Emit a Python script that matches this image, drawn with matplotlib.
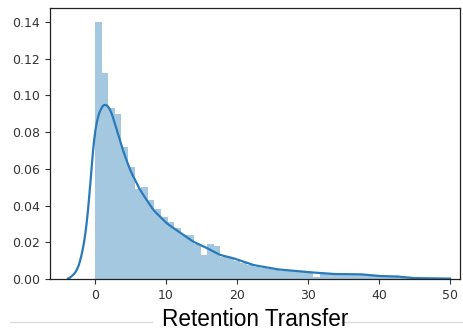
import numpy as np
import matplotlib
matplotlib.use("Agg")
import matplotlib.pyplot as plt
from matplotlib.lines import Line2D

# histogram: bins of equal width starting at 0, density heights
bin_width = 0.93
bin_start = 0.0
heights = [0.140, 0.112, 0.093, 0.090, 0.072, 0.061, 0.049, 0.050, 0.043, 0.038,
           0.034, 0.031, 0.028, 0.024, 0.024, 0.019, 0.013, 0.019, 0.018, 0.012,
           0.0115, 0.0100, 0.0088, 0.0078, 0.0068, 0.0060, 0.0055, 0.0050, 0.0046, 0.0043,
           0.0040, 0.0037, 0.0035, 0.0013, 0.0032, 0.0030, 0.0028, 0.0027, 0.0025, 0.0022,
           0.0020, 0.0018, 0.0016, 0.0014, 0.0012, 0.0010, 0.0008, 0.0006, 0.0004, 0.0003]

# density estimate curve
kde_x = [-3.8, -3.6, -2.6, -1.9, -1.17, -0.7, -0.23, 0.23, 0.94, 1.41, 2.1, 2.8,
         3.76, 4.93, 6.34, 8.2, 10.1, 12.0, 13.85, 15.7, 17.6, 19.5, 22.3, 25.6,
         29.8, 33.6, 37.3, 40.1, 42.5, 44.8, 50.0]
kde_y = [0.0, 0.0004, 0.004, 0.012, 0.0285, 0.050, 0.074, 0.0866, 0.0939, 0.0955,
         0.093, 0.0848, 0.072, 0.0594, 0.0485, 0.0376, 0.0303, 0.0252, 0.0203, 0.0170,
         0.0131, 0.0113, 0.0076, 0.0053, 0.0038, 0.0027, 0.0026, 0.0016, 0.0014, 0.0005,
         0.0002]

x_ticks = [0, 10, 20, 30, 40, 50]
y_ticks = [0.00, 0.02, 0.04, 0.06, 0.08, 0.10, 0.12, 0.14]

fig = plt.figure(figsize=(4.63, 3.34), dpi=100)
ax = fig.add_axes([50 / 463, 55 / 334, 410 / 463, 271 / 334])

lefts = bin_start + bin_width * np.arange(len(heights))
ax.bar(lefts, heights, width=bin_width, align="edge", color="#1f77b4",
       alpha=0.4, linewidth=0)

# light smoothing of the curve points for drawing
xs = np.linspace(kde_x[0], kde_x[-1], 600)
ys = np.interp(xs, kde_x, kde_y)
k = np.ones(9) / 9
ys = np.convolve(np.pad(ys, 4, mode="edge"), k, mode="valid")
ax.plot(xs, ys, color="#2a7ab9", lw=1.6)

ax.set_xlim(-6.34, 51.4)
ax.set_ylim(0, 0.1476)
ax.set_xticks(x_ticks)
ax.set_yticks(y_ticks)
ax.set_yticklabels([f"{v:.2f}" for v in y_ticks])
ax.tick_params(labelsize=9, colors="#333333", length=3.5, width=0.8)
for s in ax.spines.values():
    s.set_color("#222222")
    s.set_linewidth(0.9)

fig.text(0.551, 0.010, "Retention Transfer", ha="center", va="bottom",
         fontsize=16.3, family="Liberation Sans", color="black")

# faint separator strokes along the bottom edge
fig.add_artist(Line2D([10 / 463, 152 / 463], [12 / 334, 12 / 334],
                      color="#d8d8d8", lw=0.8))
fig.add_artist(Line2D([342 / 463, 1.0], [12 / 334, 12 / 334],
                      color="#d8d8d8", lw=0.8))

fig.savefig("out.png", dpi=100)
